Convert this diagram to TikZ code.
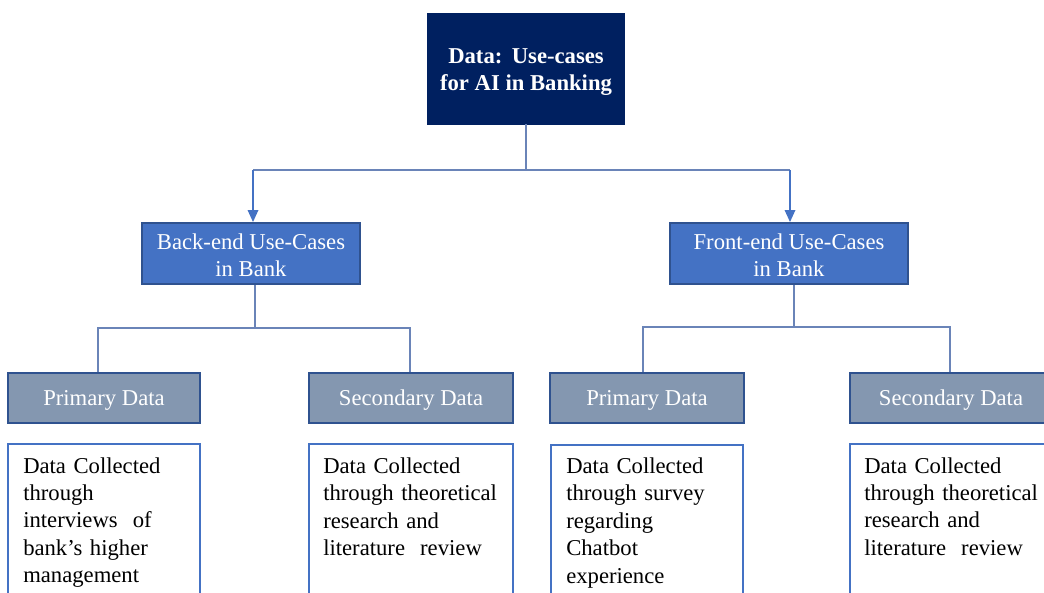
\documentclass[tikz,border=0pt]{standalone}
\usepackage{fontspec}
\setmainfont{Liberation Serif}
\usetikzlibrary{fit,arrows.meta}
\definecolor{navy}{HTML}{002060}
\definecolor{midblue}{HTML}{4472C4}
\definecolor{darkblue}{HTML}{2F528F}
\definecolor{slate}{HTML}{8497B0}
\definecolor{conn}{HTML}{6A84B8}
\tikzset{
  titlebox/.style={fill=navy,draw=navy,inner sep=0pt},
  titletext/.style={inner sep=0pt,text=white,align=center,font=\fontsize{17}{20}\selectfont\bfseries},
  usebox/.style={fill=midblue,draw=darkblue,line width=1.2pt,inner sep=0pt},
  usetext/.style={inner sep=0pt,text=white,align=center,font=\fontsize{17}{20.3}\selectfont},
  databox/.style={fill=slate,draw=darkblue,line width=1.2pt,inner sep=0pt},
  datatext/.style={inner sep=0pt,text=white,font=\fontsize{17}{20}\selectfont},
  descbox/.style={draw=midblue,line width=1pt,fill=white,inner sep=0pt},
  desctext/.style={inner sep=0pt,anchor=north west,align=left,text=black,text width=140pt,font=\fontsize{17}{20.6}\selectfont},
  link/.style={draw=conn,line width=0.9pt},
  arrowlink/.style={draw=midblue,line width=0.9pt,-{Triangle[length=9pt,width=8pt]}}
}
\begin{document}
\begin{tikzpicture}[x=0.75pt,y=-0.75pt]
\useasboundingbox (0,0) rectangle (1044,592);
% title
\node[titlebox,fit={(427,13) (624,124)}] (title) {};
\node[titletext] (titletext) at (526,72) {Data:\ \,Use-cases\\for AI in Banking};
% use-case boxes
\node[usebox,fit={(142,223) (360,284)}] (back) {};
\node[usetext] (backtext) at (251,255) {Back-end Use-Cases\\in Bank};
\node[usebox,fit={(670,223) (908,284)}] (front) {};
\node[usetext] (fronttext) at (789,255) {Front-end Use-Cases\\in Bank};
% connectors top
\coordinate (tj) at (526,170);
\coordinate (tl) at (253,170);
\coordinate (tr) at (790,170);
\draw[link] (title.south -| tj) -- (tj);
\draw[link] (tl) -- (tr);
\draw[arrowlink] (tl) -- (253,222);
\draw[arrowlink] (tr) -- (790,222);
% data boxes
\node[databox,fit={(8,373) (200,423)}] (p1) {};
\node[datatext] (p1t) at (104,400) {Primary Data};
\node[databox,fit={(309,373) (513,423)}] (s1) {};
\node[datatext] (s1t) at (411,400) {Secondary Data};
\node[databox,fit={(550,373) (744,423)}] (p2) {};
\node[datatext] (p2t) at (647,400) {Primary Data};
\node[databox,fit={(850,373) (1050,423)}] (s2) {};
\node[datatext] (s2t) at (951,400) {Secondary Data};
% connectors lower
\coordinate (bj) at (255,328);
\coordinate (fj) at (794,327);
\draw[link] (back.south -| bj) -- (bj);
\draw[link] (p1.north -| 98,0) |- (bj) -| (s1.north -| 410,0);
\draw[link] (front.south -| fj) -- (fj);
\draw[link] (p2.north -| 643,0) |- (fj) -| (s2.north -| 950,0);
% description boxes
\node[descbox,fit={(8,444) (200,610)}] (d1) {};
\node[desctext] (d1t) at (23,457) {Data Collected\\through\\interviews\ \ of\\bank’s higher\\management};
\node[descbox,fit={(309,444) (513,610)}] (d2) {};
\node[desctext] (d2t) at (323,457.5) {Data Collected\\through theoretical\\research and\\literature\ \ review};
\node[descbox,fit={(551,445) (743,610)}] (d3) {};
\node[desctext] (d3t) at (566,457.5) {Data Collected\\through survey\\regarding\\Chatbot\\experience};
\node[descbox,fit={(850,444) (1050,610)}] (d4) {};
\node[desctext] (d4t) at (864,457) {Data Collected\\through theoretical\\research and\\literature\ \ review};
\end{tikzpicture}
\end{document}
